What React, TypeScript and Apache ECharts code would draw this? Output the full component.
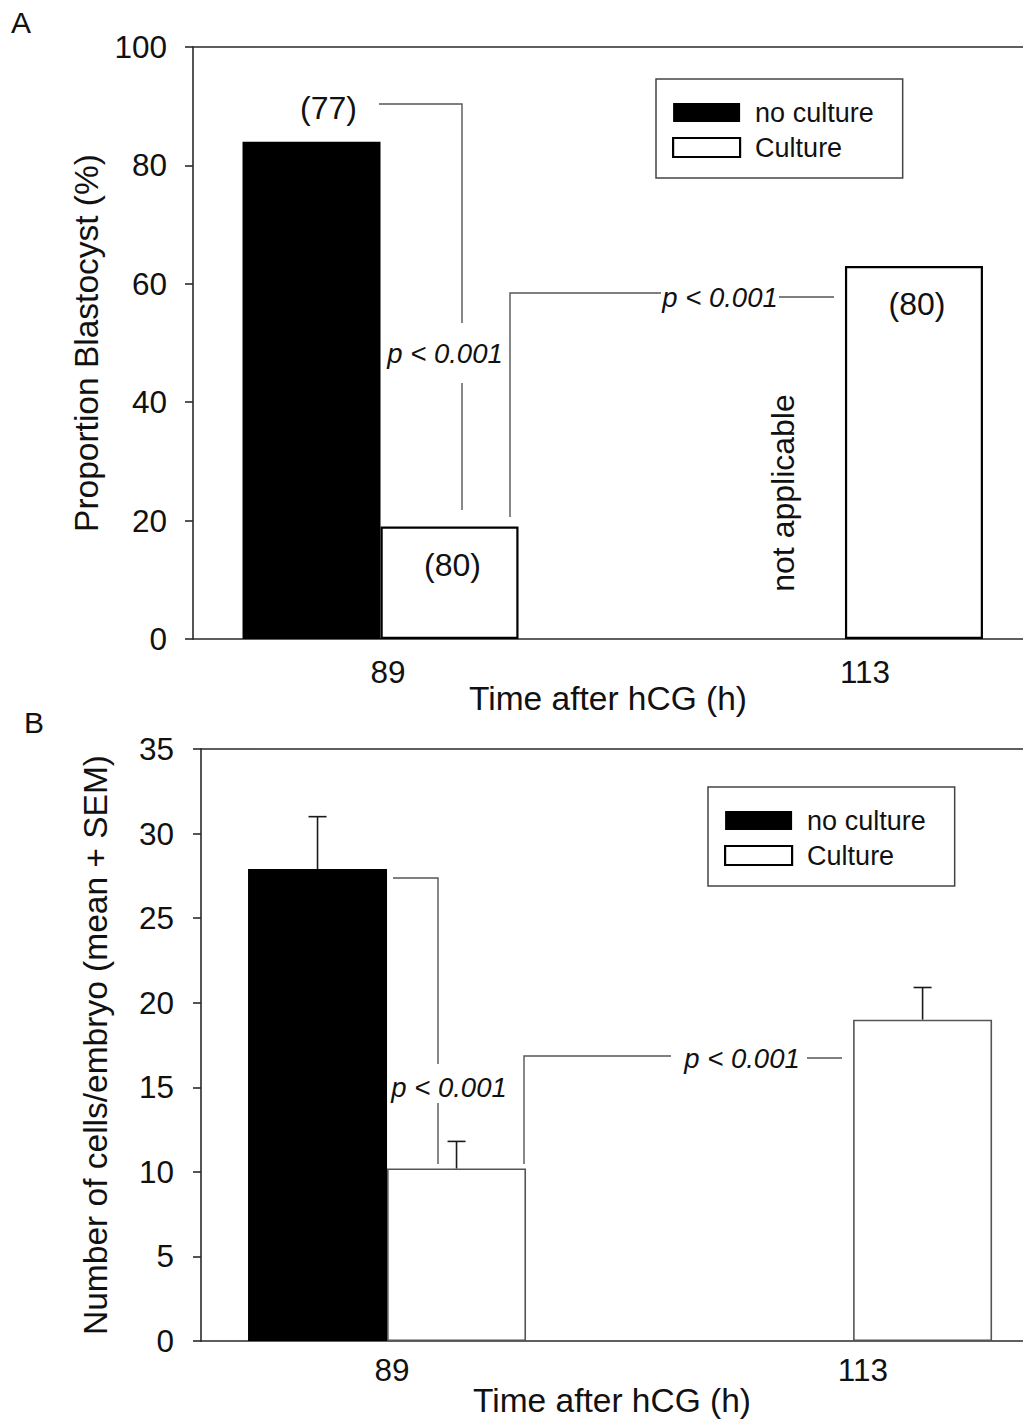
import React, { useEffect, useRef } from "react";
import * as echarts from "echarts";

// ---- data ----
const hours = [89, 113];
const seriesNames = ["no culture", "Culture"];
// Panel A: proportion blastocyst (%)
const blastNoCulture = [84, null];
const blastCulture = [19, 63];
const nNoCulture = [77, null];
const nCulture = [80, 80];
// Panel B: number of cells / embryo (mean + SEM)
const cellsNoCulture = [27.9, null];
const cellsNoCultureSem = [3.1, null];
const cellsCulture = [10.2, 19.0];
const cellsCultureSem = [1.6, 1.9];
// axes
const yA = { min: 0, max: 100, interval: 20 };
const yB = { min: 0, max: 35, interval: 5 };
const pText = "p < 0.001";
const notApplicable = "not applicable";

const FONT = '"Liberation Sans", Arial, Helvetica, sans-serif';
const TXT = "#111";
const AX = "#2a2a2a";
const BR = "#555";
const TICK_FS = 31.5;
const TITLE_FS = 33.5;

function pairs(vals: (number | null)[]) {
  const out: any[] = [];
  vals.forEach((v, i) => {
    if (v != null) out.push([hours[i], v]);
  });
  return out;
}

function errData(means: (number | null)[], sems: (number | null)[], side: number) {
  const out: any[] = [];
  means.forEach((m, i) => {
    const s = sems[i];
    if (m != null && s != null) out.push([hours[i], m, m + s, side]);
  });
  return out;
}

function errSeries(xi: number, yi: number, data: any[], halfW: number) {
  return {
    type: "custom",
    xAxisIndex: xi,
    yAxisIndex: yi,
    data,
    z: 5,
    renderItem: (params: any, api: any) => {
      const x = api.value(0);
      const p0 = api.coord([x, api.value(1)]);
      const p1 = api.coord([x, api.value(2)]);
      const cx = p0[0] + api.value(3) * halfW;
      const st = { stroke: "#1a1a1a", lineWidth: 1.6 };
      return {
        type: "group",
        children: [
          { type: "line", shape: { x1: cx, y1: p0[1], x2: cx, y2: p1[1] }, style: st },
          { type: "line", shape: { x1: cx - 9, y1: p1[1], x2: cx + 9, y2: p1[1] }, style: st },
        ],
      };
    },
  };
}

function mainX(grid: number, min: number, max: number) {
  return {
    type: "value",
    gridIndex: grid,
    position: "bottom",
    min,
    max,
    axisLine: { show: true, lineStyle: { color: AX, width: 1.6 } },
    axisTick: { show: false },
    axisLabel: { show: false },
    splitLine: { show: false },
    name: "Time after hCG (h)",
    nameLocation: "middle",
    nameGap: 42,
    nameTextStyle: { fontSize: TITLE_FS, color: TXT, fontFamily: FONT },
  };
}
function labelX(grid: number, min: number, max: number, margin: number) {
  return {
    type: "value",
    gridIndex: grid,
    position: "bottom",
    min,
    max,
    axisLine: { show: false },
    axisTick: { show: false },
    splitLine: { show: false },
    axisLabel: { show: true, customValues: hours, fontSize: TICK_FS, color: TXT, fontFamily: FONT, margin },
  };
}
function topX(grid: number) {
  return {
    type: "value",
    gridIndex: grid,
    position: "top",
    min: 0,
    max: 1,
    axisLine: { show: true, lineStyle: { color: AX, width: 1.6 } },
    axisTick: { show: false },
    axisLabel: { show: false },
    splitLine: { show: false },
  };
}
function yAxis(grid: number, r: any, name: string, nameGap: number, margin: number) {
  return {
    type: "value",
    gridIndex: grid,
    min: r.min,
    max: r.max,
    interval: r.interval,
    axisLine: { show: true, lineStyle: { color: AX, width: 1.6 } },
    axisTick: { show: true, inside: false, length: 8, lineStyle: { color: AX, width: 1.6 } },
    axisLabel: { fontSize: TICK_FS, color: TXT, fontFamily: FONT, margin },
    splitLine: { show: false },
    name,
    nameLocation: "middle",
    nameGap,
    nameTextStyle: { fontSize: TITLE_FS, color: TXT, fontFamily: FONT },
  };
}
function legend(left: number, top: number) {
  return {
    left,
    top,
    orient: "vertical",
    selectedMode: false,
    icon: "rect",
    itemWidth: 67,
    itemHeight: 19,
    itemGap: 8,
    padding: [20, 29, 17, 16],
    backgroundColor: "#fff",
    borderColor: "#444",
    borderWidth: 1.5,
    borderRadius: 0,
    textStyle: { fontSize: 27, color: TXT, fontFamily: FONT, lineHeight: 26, padding: [0, 0, 0, 10] },
    data: [
      { name: seriesNames[0], itemStyle: { color: "#000", borderColor: "#000", borderWidth: 0 } },
      { name: seriesNames[1], itemStyle: { color: "#fff", borderColor: "#000", borderWidth: 2.2 } },
    ],
  };
}

function txt(x: number, y: number, text: string, size: number, italic = false, rot = 0) {
  const font = `${italic ? "italic " : ""}${size}px ${FONT}`;
  return {
    type: "text",
    x,
    y,
    rotation: rot,
    z: 50,
    style: {
      x: 0,
      y: 0,
      text,
      fill: TXT,
      font,
      fontSize: size,
      fontFamily: FONT,
      fontStyle: italic ? "italic" : "normal",
      align: "center",
      verticalAlign: "middle",
      textAlign: "center",
      textVerticalAlign: "middle",
    },
  };
}
function pl(points: number[][]) {
  return { type: "polyline", z: 40, shape: { points }, style: { stroke: BR, lineWidth: 1.4, fill: null } };
}

export default function App() {
  const ref = useRef<HTMLDivElement>(null);
  useEffect(() => {
    if (!ref.current) return;
    const chart = echarts.init(ref.current, null, { renderer: "svg" });
    const option: any = {
      animation: false,
      backgroundColor: "#fff",
      textStyle: { fontFamily: FONT },
      grid: [
        { left: 193, top: 47, width: 830, height: 592, containLabel: false, outerBoundsMode: "none" },
        { left: 201, top: 749, width: 822, height: 592, containLabel: false, outerBoundsMode: "none" },
      ],
      xAxis: [
        mainX(0, 79.31, 122.2),
        labelX(0, 79.19, 120.95, 17),
        topX(0),
        mainX(1, 79.42, 121.75),
        labelX(1, 79.27, 121.16, 13),
        topX(1),
      ],
      yAxis: [
        yAxis(0, yA, "Proportion Blastocyst (%)", 82, 26),
        yAxis(1, yB, "Number of cells/embryo (mean + SEM)", 89, 27),
      ],
      legend: [legend(656, 79), legend(708, 787)],
      series: [
        {
          type: "bar",
          name: seriesNames[0],
          xAxisIndex: 0,
          yAxisIndex: 0,
          barWidth: 138,
          barGap: "0%",
          data: pairs(blastNoCulture),
          itemStyle: { color: "#000", borderColor: "#000", borderWidth: 0 },
          label: {
            show: true,
            position: "top",
            distance: 18,
            offset: [17, 0],
            fontSize: 32,
            color: TXT,
            fontFamily: FONT,
            formatter: (p: any) => `(${nNoCulture[hours.indexOf(p.value[0])]})`,
          },
        },
        {
          type: "bar",
          name: seriesNames[1],
          xAxisIndex: 0,
          yAxisIndex: 0,
          barWidth: 138,
          barGap: "0%",
          data: pairs(blastCulture),
          itemStyle: { color: "#fff", borderColor: "#000", borderWidth: 2.2 },
          label: {
            show: true,
            position: "insideTop",
            distance: 22,
            offset: [3, 0],
            fontSize: 32,
            color: TXT,
            fontFamily: FONT,
            formatter: (p: any) => `(${nCulture[hours.indexOf(p.value[0])]})`,
          },
        },
        {
          type: "bar",
          name: seriesNames[0],
          xAxisIndex: 3,
          yAxisIndex: 1,
          barWidth: 139,
          barGap: "0%",
          data: pairs(cellsNoCulture),
          itemStyle: { color: "#000", borderColor: "#000", borderWidth: 0 },
        },
        {
          type: "bar",
          name: seriesNames[1],
          xAxisIndex: 3,
          yAxisIndex: 1,
          barWidth: 139,
          barGap: "0%",
          data: pairs(cellsCulture),
          itemStyle: { color: "#fff", borderColor: "#555", borderWidth: 1.6 },
        },
        errSeries(3, 1, errData(cellsNoCulture, cellsNoCultureSem, -1), 69.5),
        errSeries(3, 1, errData(cellsCulture, cellsCultureSem, 1), 69.5),
      ],
      graphic: [
        txt(21, 22, "A", 30),
        txt(34, 722, "B", 30),
        // Panel A annotations
        pl([[379, 104], [462, 104], [462, 323]]),
        pl([[462, 383], [462, 510]]),
        txt(445, 353, pText, 27.5, true),
        pl([[510, 517], [510, 293], [661, 293]]),
        pl([[779, 297], [834, 297]]),
        txt(720, 297, pText, 27.5, true),
        txt(783, 493, notApplicable, 32, false, Math.PI / 2),
        // Panel B annotations
        pl([[393, 878], [438, 878], [438, 1064]]),
        pl([[438, 1103], [438, 1164]]),
        txt(449, 1087, pText, 27.5, true),
        pl([[524, 1164], [524, 1056], [671, 1056]]),
        pl([[807, 1058], [842, 1058]]),
        txt(742, 1058, pText, 27.5, true),
      ],
    };
    chart.setOption(option);
    return () => chart.dispose();
  }, []);
  return (
    <div
      ref={ref}
      style={{ position: "absolute", left: 0, top: 0, width: 1023, height: 1419, background: "#fff" }}
    />
  );
}
